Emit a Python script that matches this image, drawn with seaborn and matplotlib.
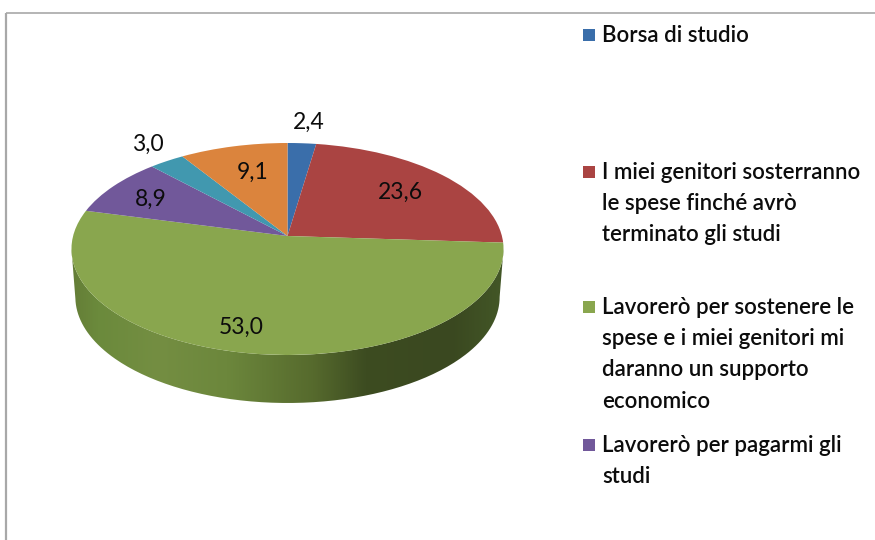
import numpy as np
import matplotlib
matplotlib.use("Agg")
import matplotlib.pyplot as plt
import seaborn as sns
from matplotlib.colors import LinearSegmentedColormap
from matplotlib.path import Path
from matplotlib.patches import PathPatch
from matplotlib.transforms import Transform

# ---- data ----
values = [2.4, 23.6, 53.0, 8.9, 3.0, 9.1]
value_labels = ["2,4", "23,6", "53,0", "8,9", "3,0", "9,1"]
legend_labels = [
    "Borsa di studio",
    "I miei genitori sosterranno\nle spese finché avrò\nterminato gli studi",
    "Lavorerò per sostenere le\nspese e i miei genitori mi\ndaranno un supporto\neconomico",
    "Lavorerò per pagarmi gli\nstudi",
]
slice_colors = ["#3A6EAA", "#AA4442", "#89A64E", "#71589A", "#4198AF", "#DB843D"]

# ---- layout (pixels) ----
W, H = 875, 540
label_pos = [(309, 122), (400, 192), (241, 327), (151, 199), (148, 144), (253, 172)]
legend_y = [35, 172, 307, 445]
APEX = (287.5, 236)
S, A, C = 214.4, 104.4, 0.1226
DEPTH = 48
side_stops = [(0.0, "#647D37"), (0.06, "#6B8A3C"), (0.2, "#748E42"), (0.36, "#6C873C"),
              (0.56, "#566A2D"), (0.68, "#3D4C21"), (0.88, "#3A4820"), (1.0, "#435727")]

sns.set_theme(style="white")
plt.rcParams["font.family"] = ["Lato", "DejaVu Sans"]


class Perspective(Transform):
    """Tilted-disc projection of the unit pie to pixel space."""
    input_dims = output_dims = 2
    is_separable = False

    def __init__(self, cx, cy, s, a, c):
        super().__init__()
        self.p = (cx, cy, s, a, c)

    def transform_non_affine(self, values):
        cx, cy, s, a, c = self.p
        v = np.asarray(values, float)
        d = 1 + c * v[:, 1]
        return np.column_stack([cx + s * v[:, 0] / d, cy - a * v[:, 1] / d])


fig = plt.figure(figsize=(W / 100, H / 100), dpi=100, facecolor="white")
ax = fig.add_axes([0, 0, 1, 1])

palette = sns.color_palette(slice_colors)
wedges, _ = ax.pie(values, colors=palette, startangle=90, counterclock=False, radius=1,
                   wedgeprops={"linewidth": 0})
top = Perspective(APEX[0], APEX[1], S, A, C)
for w in wedges:
    w.set_transform(top + ax.transData)
    w.set_zorder(3)
    w.set_antialiased(True)

# side wall with horizontal shading
low = Perspective(APEX[0], APEX[1] + DEPTH, S * 0.982, A, C)
th = np.radians(np.linspace(-7, -173, 200))
circle = np.column_stack([np.cos(th), np.sin(th)])
upper_edge = top.transform(circle)
lower_edge = low.transform(circle)[::-1]
wall = np.vstack([upper_edge, lower_edge, upper_edge[:1]])
clip = PathPatch(Path(wall), transform=ax.transData, facecolor="none", edgecolor="none")
ax.add_patch(clip)
cmap = LinearSegmentedColormap.from_list("side", side_stops)
x0, x1 = wall[:, 0].min(), wall[:, 0].max()
y0, y1 = wall[:, 1].min(), wall[:, 1].max()
im = ax.imshow(np.linspace(0, 1, 512)[None, :], cmap=cmap, aspect="auto",
               extent=(x0, x1, y1, y0), zorder=2)
im.set_clip_path(clip)

ax.set_aspect("auto")
ax.set_xlim(0, W)
ax.set_ylim(H, 0)
ax.set_frame_on(False)
ax.set_xticks([])
ax.set_yticks([])

# value labels
for lab, (x, y) in zip(value_labels, label_pos):
    ax.text(x, y, lab, ha="center", va="center", fontsize=16.5, color="#0C0C0C", zorder=5)

# legend
for col, lab, y in zip(palette, legend_labels, legend_y):
    ax.scatter([588.5], [y], marker="s", s=85, color=col, linewidths=0, zorder=5)
    ax.text(602, y - 10, lab, ha="left", va="top", fontsize=16, fontweight="semibold",
            color="#0C0C0C", linespacing=1.6, zorder=5)

# outer frame lines
ax.plot([5.5, 5.5], [H, 13], color="#A8A8A8", lw=1.6, solid_capstyle="butt", zorder=1)
ax.plot([5.5, W], [13, 13], color="#A8A8A8", lw=1.2, solid_capstyle="butt", zorder=1)

fig.savefig("out.png", dpi=100, facecolor="white")
